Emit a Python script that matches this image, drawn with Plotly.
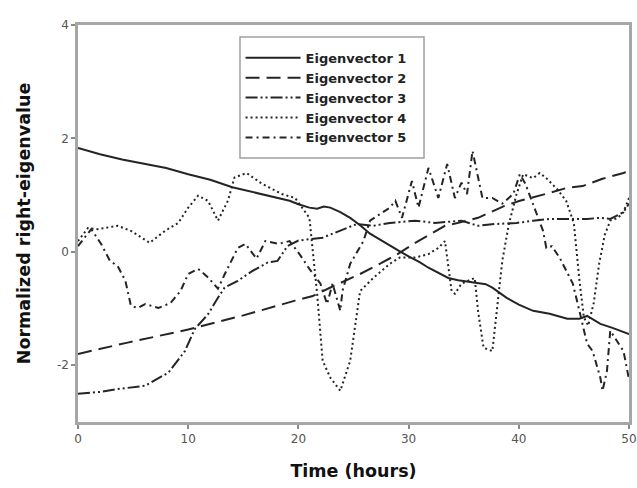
import plotly.graph_objects as go

# ---------------- data ----------------
t1 = [0, 2, 4, 6, 8, 10, 12, 14, 16, 18, 19.2, 20, 21, 21.7, 22.3, 22.9, 23.8, 24.7,
      25.6, 26.5, 27.5, 28.5, 29.2, 30, 31, 31.8, 32.8, 33.6, 34.5, 35.5, 36.3, 37,
      37.6, 38.3, 38.9, 40, 41.3, 42.8, 44.4, 45.5, 46.2, 47.4, 48.5, 50]
y1 = [1.83, 1.72, 1.63, 1.56, 1.48, 1.37, 1.27, 1.14, 1.05, 0.95, 0.9, 0.84, 0.78, 0.76,
      0.8, 0.78, 0.7, 0.6, 0.47, 0.32, 0.2, 0.08, 0.01, -0.08, -0.18, -0.28, -0.38,
      -0.46, -0.5, -0.53, -0.56, -0.57, -0.63, -0.72, -0.81, -0.93, -1.04, -1.09,
      -1.18, -1.18, -1.13, -1.27, -1.34, -1.45]

t2 = [0, 4.5, 10, 15, 19.7, 21.3, 23, 25.6, 27.5, 29, 30.6, 32, 33.3, 34.7, 36.3,
      38.7, 40.1, 42.8, 44.4, 45.8, 47.6, 49.5, 50]
y2 = [-1.8, -1.6, -1.37, -1.12, -0.86, -0.78, -0.62, -0.39, -0.2, -0.04, 0.16, 0.32,
      0.46, 0.52, 0.6, 0.81, 0.9, 1.04, 1.13, 1.16, 1.29, 1.39, 1.43]

t3 = [0, 2, 3.6, 6.1, 8.2, 9.7, 10.6, 11.8, 12.7, 13.3, 14.5, 15.8, 17.2, 18.1, 19,
      20, 22.2, 23.8, 25.3, 26.8, 28.3, 30.6, 32.4, 34.8, 36.3, 37.8, 39.8, 41.3,
      42.8, 44.4, 46.2, 47.4, 48.3, 49.5, 50]
y3 = [-2.5, -2.47, -2.42, -2.36, -2.13, -1.75, -1.36, -1.1, -0.81, -0.63, -0.51, -0.34,
      -0.19, -0.16, 0.1, 0.2, 0.25, 0.37, 0.49, 0.46, 0.51, 0.55, 0.51, 0.55, 0.46,
      0.49, 0.51, 0.55, 0.58, 0.58, 0.58, 0.6, 0.58, 0.7, 0.85]

t4 = [0, 0.9, 1.8, 3.6, 4.8, 6.5, 7.9, 9.1, 10, 10.9, 11.8, 12.7, 13.6, 14.2, 15.3,
      16.7, 18.5, 19.7, 21, 21.7, 22.2, 22.9, 23.8, 24.7, 25.6, 26.8, 28.3, 29.2,
      30.6, 31.8, 32.7, 33.3, 33.9, 34.2, 34.8, 36, 36.3, 36.8, 37.6, 38, 38.5, 39.1,
      39.8, 40.4, 41.3, 41.9, 42.5, 43.5, 44.3, 45, 45.5, 45.9, 46.3, 46.8, 47.3,
      47.8, 48.3, 49, 49.5, 50]
y4 = [0.19, 0.42, 0.4, 0.46, 0.37, 0.16, 0.37, 0.51, 0.78, 0.99, 0.9, 0.55, 0.9, 1.31,
      1.39, 1.2, 1.02, 0.95, 0.6, -0.74, -1.92, -2.22, -2.45, -1.92, -0.69, -0.46,
      -0.21, -0.1, -0.1, -0.04, 0.07, 0.19, -0.69, -0.74, -0.56, -0.46, -1.04, -1.69,
      -1.75, -1.04, -0.16, 0.49, 1.02, 1.37, 1.3, 1.39, 1.3, 1.1, 0.9, 0.5, -0.5,
      -1.15, -1.3, -0.9, -0.2, 0.3, 0.55, 0.6, 0.7, 0.95]

t5 = [0, 1.2, 2.1, 2.9, 3.6, 4.3, 4.8, 5.4, 6.1, 7.3, 8.4, 9.3, 10, 10.9, 11.8, 12.7,
      13.3, 14.5, 15.2, 16.2, 17, 18.2, 19.2, 20.1, 21, 22, 22.6, 23.1, 23.8, 24,
      24.7, 25.9, 26.5, 28.3, 28.8, 29.4, 30.3, 30.9, 31.8, 32.7, 33.5, 34.2, 34.8,
      35.3, 35.8, 36.7, 37.6, 38.5, 39.5, 40.1, 40.6, 41.3, 42.2, 42.5, 43, 43.7,
      44.9, 45.5, 46.2, 46.7, 47.4, 47.6, 48, 48.3, 48.9, 49.5, 50]
y5 = [0.1, 0.4, 0.14, -0.16, -0.25, -0.51, -0.95, -0.99, -0.92, -0.99, -0.9, -0.69,
      -0.39, -0.3, -0.45, -0.65, -0.4, 0.07, 0.14, -0.12, 0.19, 0.14, 0.19, -0.04,
      -0.3, -0.56, -0.92, -0.56, -1.04, -0.69, -0.21, 0.19, 0.55, 0.78, 0.9, 0.6,
      1.25, 0.78, 1.48, 0.95, 1.55, 0.95, 1.22, 1.02, 1.78, 0.95, 0.95, 0.85, 1.02,
      1.37, 1.2, 0.85, 0.37, 0.07, 0.1, -0.1, -0.56, -1.04, -1.62, -1.75, -2.22,
      -2.45, -2.1, -1.39, -1.57, -1.75, -2.25]

names = ["Eigenvector 1", "Eigenvector 2", "Eigenvector 3", "Eigenvector 4", "Eigenvector 5"]
x_ticks = [0, 10, 20, 30, 40, 50]
y_ticks = [-2, 0, 2, 4]
y_tick_text = ["-2", "0", "2", "4"]

# ---------------- styling ----------------
series = [(t1, y1), (t2, y2), (t3, y3), (t4, y4), (t5, y5)]
dashes = ["solid", "14px,7px", "12px,3px,2px,3px,2px,3px", "2px,3px", "7px,4px,2px,4px"]
line_color = "#242424"

fig = go.Figure()
for (tx, ty), nm, ds in zip(series, names, dashes):
    fig.add_trace(go.Scatter(
        x=tx, y=ty, name="<b>" + nm + "</b>", mode="lines",
        line=dict(color=line_color, width=2, dash=ds),
    ))

axis_common = dict(
    showgrid=False, zeroline=False, showline=True, mirror=True,
    linecolor="#a6a6a6", linewidth=2.5, automargin=False,
    ticks="outside", ticklen=4, tickwidth=1.5, tickcolor="#8a8a8a",
    tickfont=dict(family="DejaVu Sans", size=12, color="#555555"),
)

fig.update_xaxes(
    range=[0, 50], tickvals=x_ticks,
    title=dict(text="<b>Time (hours)</b>", font=dict(family="DejaVu Sans", size=17.5, color="#111111"),
               standoff=20),
    **axis_common,
)
fig.update_yaxes(
    range=[-3, 4], tickvals=y_ticks, ticktext=y_tick_text,
    title=dict(text="<b>Normalized right-eigenvalue</b>",
               font=dict(family="DejaVu Sans", size=17.5, color="#111111"), standoff=22),
    **axis_common,
)

# legend frame (white box with grey border, drawn over the curves)
fig.add_shape(
    type="rect", xref="paper", yref="paper",
    x0=0.294, x1=0.628, y0=0.665, y1=0.97,
    fillcolor="white", line=dict(color="#a0a0a0", width=1.5), layer="above",
)

fig.update_layout(
    width=637, height=488,
    margin=dict(l=78, r=8, t=25, b=66),
    plot_bgcolor="white", paper_bgcolor="white",
    legend=dict(
        x=0.295, y=0.955, xanchor="left", yanchor="top",
        bgcolor="rgba(0,0,0,0)", borderwidth=0,
        font=dict(family="DejaVu Sans", size=13, color="#222222"),
        itemwidth=55,
    ),
)

fig.write_html("out.html")
